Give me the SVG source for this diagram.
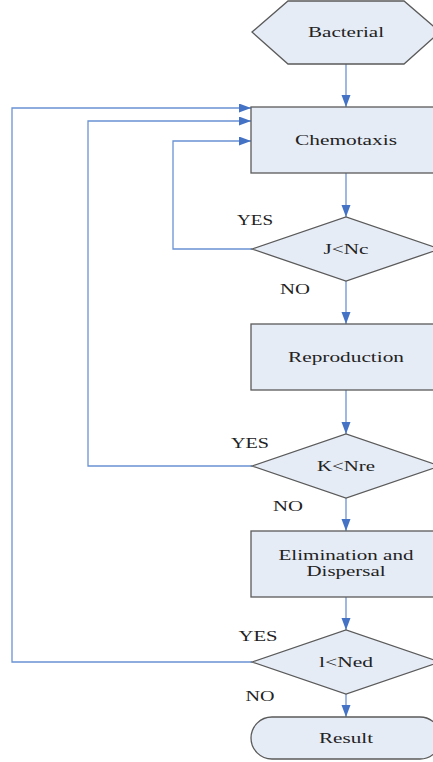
<svg xmlns="http://www.w3.org/2000/svg" width="433" height="762" viewBox="0 0 433 762">
<style>
.n{fill:#E6ECF6;stroke:#5a5a5a;stroke-width:1.3}
.t{font-family:"Liberation Serif","Times New Roman",serif;font-size:14px;fill:#222;text-anchor:middle}
.c{fill:none;stroke:#6A93D4;stroke-width:1.3}
</style>
<defs>
<marker id="a" markerUnits="userSpaceOnUse" markerWidth="13" markerHeight="10" refX="12" refY="4.5" orient="auto">
<path d="M0,0 L12,4.5 L0,9 z" fill="#4472C4"/>
</marker>
</defs>
<g id="connectors">
<path class="c" d="M346,64 V107" marker-end="url(#a)"/>
<path class="c" d="M346,173 V217" marker-end="url(#a)"/>
<path class="c" d="M346,281 V324" marker-end="url(#a)"/>
<path class="c" d="M346,390 V434" marker-end="url(#a)"/>
<path class="c" d="M346,498 V531" marker-end="url(#a)"/>
<path class="c" d="M346,597 V630" marker-end="url(#a)"/>
<path class="c" d="M346,694 V717" marker-end="url(#a)"/>
<path class="c" d="M252,249 H173 V141 H251" marker-end="url(#a)"/>
<path class="c" d="M252,466 H88 V121 H251" marker-end="url(#a)"/>
<path class="c" d="M252,662 H12 V108 H251" marker-end="url(#a)"/>
<text class="t" x="255" y="225" textLength="36" lengthAdjust="spacingAndGlyphs">YES</text>
<text class="t" x="295" y="294" textLength="30" lengthAdjust="spacingAndGlyphs">NO</text>
<text class="t" x="250" y="448" textLength="38" lengthAdjust="spacingAndGlyphs">YES</text>
<text class="t" x="288" y="511" textLength="30" lengthAdjust="spacingAndGlyphs">NO</text>
<text class="t" x="258" y="641" textLength="39" lengthAdjust="spacingAndGlyphs">YES</text>
<text class="t" x="260" y="701" textLength="29" lengthAdjust="spacingAndGlyphs">NO</text>
</g>
<g id="bacterial">
<polygon class="n" points="252,32 288,1 404,1 440,32 404,64 288,64"/>
<text class="t" x="346" y="37" textLength="76" lengthAdjust="spacingAndGlyphs">Bacterial</text>
</g>
<g id="chemotaxis">
<rect class="n" x="251" y="107" width="190" height="66"/>
<text class="t" x="346" y="145" textLength="102" lengthAdjust="spacingAndGlyphs">Chemotaxis</text>
</g>
<g id="jnc">
<polygon class="n" points="252,249 346,217 440,249 346,281"/>
<text class="t" x="346" y="254" textLength="45" lengthAdjust="spacingAndGlyphs">J&lt;Nc</text>
</g>
<g id="reproduction">
<rect class="n" x="251" y="324" width="190" height="66"/>
<text class="t" x="346" y="362" textLength="116" lengthAdjust="spacingAndGlyphs">Reproduction</text>
</g>
<g id="knre">
<polygon class="n" points="252,466 346,434 440,466 346,498"/>
<text class="t" x="346" y="471" textLength="58" lengthAdjust="spacingAndGlyphs">K&lt;Nre</text>
</g>
<g id="elimination">
<rect class="n" x="251" y="531" width="190" height="66"/>
<text class="t" x="346" y="560" textLength="135" lengthAdjust="spacingAndGlyphs">Elimination and</text>
<text class="t" x="346" y="576" textLength="79" lengthAdjust="spacingAndGlyphs">Dispersal</text>
</g>
<g id="lned">
<polygon class="n" points="252,662 346,630 440,662 346,694"/>
<text class="t" x="346" y="667" textLength="54" lengthAdjust="spacingAndGlyphs">l&lt;Ned</text>
</g>
<g id="result">
<rect class="n" x="251" y="717" width="190" height="42" rx="21" ry="21"/>
<text class="t" x="346" y="743" textLength="54" lengthAdjust="spacingAndGlyphs">Result</text>
</g>
</svg>
